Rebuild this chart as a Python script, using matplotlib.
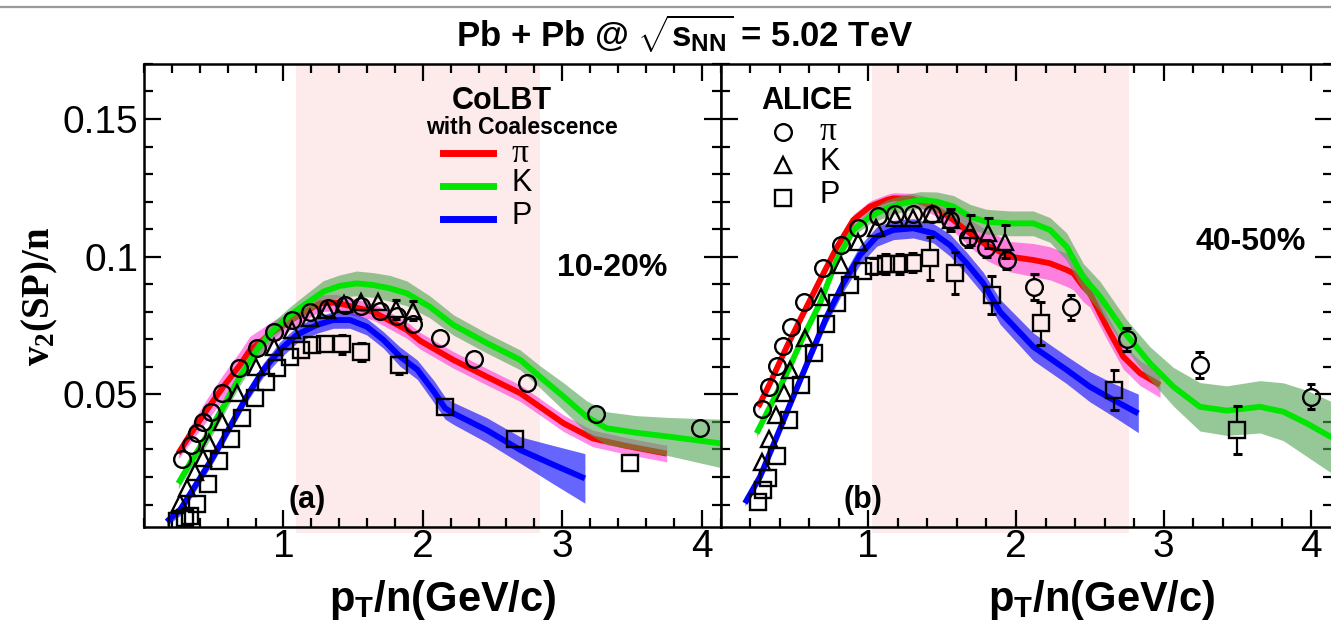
import matplotlib
matplotlib.use("Agg")
import matplotlib.pyplot as plt
from matplotlib.lines import Line2D
from matplotlib.ticker import MultipleLocator
import numpy as np

plt.rcParams['font.family'] = ['Liberation Sans', 'DejaVu Sans']
plt.rcParams['mathtext.fontset'] = 'custom'
plt.rcParams['mathtext.rm'] = 'Liberation Sans:bold'
plt.rcParams['mathtext.it'] = 'Liberation Sans:bold'
plt.rcParams['mathtext.bf'] = 'Liberation Serif:bold'
plt.rcParams['mathtext.sf'] = 'Liberation Serif'

# ---------------- data: panel (a) 10-20% ----------------
a_pi_x = [0.275, 0.335, 0.382, 0.425, 0.478, 0.56, 0.68, 0.81, 0.93, 1.06, 1.19, 1.32, 1.44,
          1.56, 1.69, 1.815, 1.93, 2.12, 2.37, 2.745, 3.24, 3.99]
a_pi_y = [0.0265, 0.0316, 0.0361, 0.0399, 0.0435, 0.0506, 0.0595, 0.067, 0.0728, 0.077, 0.0798,
          0.0813, 0.0825, 0.082, 0.0803, 0.0785, 0.0755, 0.0704, 0.0627, 0.054, 0.0429, 0.0379]
a_pi_e = [0.0005] * 13 + [0.001, 0.001, 0.0015, 0.0015, 0.002, 0.002, 0.002, 0.002, 0.002]

a_k_x = [0.258, 0.306, 0.366, 0.426, 0.469, 0.557, 0.67, 0.804, 0.935, 1.06, 1.19, 1.31, 1.435,
         1.555, 1.68, 1.808, 1.932]
a_k_y = [0.0105, 0.0159, 0.0219, 0.0268, 0.0322, 0.0401, 0.0506, 0.060, 0.0673, 0.0734, 0.0776,
         0.0806, 0.0828, 0.0837, 0.0837, 0.0809, 0.0804]
a_k_e = [0.0005] * 13 + [0.002, 0.0025, 0.0035, 0.0035]

a_p_x = [0.239, 0.294, 0.33, 0.378, 0.461, 0.54, 0.622, 0.70, 0.796, 0.875, 0.957, 1.048, 1.124,
         1.203, 1.30, 1.42, 1.56, 1.83, 2.16, 2.66, 3.49]
a_p_y = [0.0041, 0.005, 0.0058, 0.0102, 0.0174, 0.0259, 0.0337, 0.0413, 0.0486, 0.0546, 0.0595,
         0.0635, 0.0661, 0.0679, 0.0682, 0.0682, 0.0655, 0.0607, 0.0453, 0.0338, 0.025]
a_p_e = [0.0005] * 14 + [0.002, 0.0035, 0.0032, 0.0032, 0.002, 0.002, 0.002]

# CoLBT curves (a)
a_pi_cx = [0.246, 0.33, 0.45, 0.569, 0.689, 0.76, 0.928, 1.095, 1.262, 1.38, 1.645, 1.885,
           1.98, 2.22, 2.46, 2.70, 2.84, 3.01, 3.22, 3.46, 3.75]
a_pi_cy = [0.0286, 0.0353, 0.0443, 0.0528, 0.0607, 0.0661, 0.0728, 0.0782, 0.0831, 0.0833,
           0.080, 0.0734, 0.0695, 0.0625, 0.0564, 0.0504, 0.0455, 0.0395, 0.034, 0.0313, 0.0285]
a_pi_ce = [0.002, 0.003, 0.004, 0.0045, 0.005, 0.005, 0.004, 0.003, 0.003, 0.003, 0.003, 0.003,
           0.003, 0.003, 0.003, 0.003, 0.003, 0.003, 0.003, 0.003, 0.003]

a_k_cx = [0.246, 0.33, 0.45, 0.569, 0.689, 0.81, 0.928, 1.047, 1.167, 1.286, 1.405, 1.525,
          1.645, 1.765, 1.885, 2.05, 2.22, 2.46, 2.70, 2.84, 3.01, 3.175, 3.32, 3.53, 3.775, 4.14]
a_k_cy = [0.0177, 0.025, 0.0346, 0.0455, 0.0564, 0.0661, 0.0734, 0.0788, 0.0831, 0.0873,
          0.0894, 0.0903, 0.0897, 0.0885, 0.0867, 0.0818, 0.0752, 0.0686, 0.0625, 0.0564,
          0.0492, 0.0419, 0.0377, 0.0361, 0.0346, 0.0322]
a_k_ce = [0.002, 0.0025, 0.003, 0.003, 0.003, 0.003, 0.003, 0.003, 0.0035, 0.004, 0.004, 0.0045,
          0.0045, 0.0047, 0.0045, 0.004, 0.0037, 0.0036, 0.0036, 0.004, 0.005, 0.0058, 0.006,
          0.0062, 0.007, 0.0088]

a_p_cx = [0.163, 0.258, 0.378, 0.497, 0.617, 0.737, 0.856, 0.976, 1.095, 1.239, 1.358, 1.478,
          1.598, 1.717, 1.837, 1.96, 2.08, 2.16, 2.22, 2.46, 2.70, 2.94, 3.163]
a_p_cy = [0.0038, 0.008, 0.0177, 0.0274, 0.0383, 0.0492, 0.0589, 0.0661, 0.0716, 0.0752, 0.077,
          0.077, 0.0746, 0.0698, 0.0637, 0.059, 0.051, 0.045, 0.0431, 0.037, 0.0298, 0.0244, 0.0195]
a_p_ce = [0.0015, 0.002, 0.002, 0.002, 0.002, 0.002, 0.0025, 0.003, 0.003, 0.003, 0.003, 0.003,
          0.003, 0.003, 0.0035, 0.0035, 0.004, 0.004, 0.004, 0.0045, 0.0048, 0.007, 0.009]

# ---------------- data: panel (b) 40-50% ----------------
b_pi_x = [0.278, 0.33, 0.38, 0.425, 0.475, 0.565, 0.695, 0.813, 0.932, 1.068, 1.18, 1.30, 1.43,
          1.553, 1.677, 1.80, 1.937, 2.124, 2.372, 2.75, 3.245, 3.997]
b_pi_y = [0.0446, 0.0528, 0.0603, 0.0676, 0.0746, 0.0837, 0.0958, 0.1042, 0.1103, 0.1148, 0.1155,
          0.1155, 0.1155, 0.1133, 0.1067, 0.103, 0.0988, 0.0891, 0.0816, 0.070, 0.0607, 0.0492]
b_pi_e = [0.0005] * 9 + [0.0015, 0.0015, 0.0015, 0.002, 0.003, 0.003, 0.003, 0.0034, 0.0047,
                         0.0046, 0.0042, 0.0048, 0.0044]

b_k_x = [0.278, 0.33, 0.375, 0.429, 0.47, 0.571, 0.68, 0.813, 0.932, 1.052, 1.18, 1.30, 1.43,
         1.558, 1.689, 1.813, 1.926]
b_k_y = [0.0256, 0.0337, 0.0425, 0.0506, 0.0589, 0.0704, 0.0855, 0.097, 0.1054, 0.1103, 0.114,
         0.114, 0.1155, 0.1133, 0.1097, 0.1085, 0.1054]
b_k_e = [0.0005] * 9 + [0.0015, 0.002, 0.002, 0.002, 0.004, 0.0055, 0.0055, 0.006]

b_p_x = [0.255, 0.285, 0.323, 0.38, 0.463, 0.542, 0.632, 0.714, 0.79, 0.876, 0.962, 1.038, 1.118,
         1.21, 1.30, 1.418, 1.587, 1.835, 2.167, 2.664, 3.498]
b_p_y = [0.011, 0.0153, 0.0195, 0.0278, 0.0407, 0.0534, 0.0649, 0.0756, 0.0831, 0.0897, 0.0948,
         0.0966, 0.0973, 0.0973, 0.0978, 0.0994, 0.094, 0.0861, 0.0758, 0.0516, 0.0371]
b_p_e = [0.0005] * 11 + [0.003, 0.0035, 0.0035, 0.0035, 0.0079, 0.0076, 0.0069, 0.0079, 0.0071,
                         0.0087]

# CoLBT curves (b)
b_pi_cx = [0.255, 0.334, 0.448, 0.56, 0.673, 0.786, 0.898, 1.011, 1.125, 1.17, 1.30, 1.45, 1.576,
           1.689, 1.80, 1.96, 2.117, 2.23, 2.343, 2.388, 2.456, 2.50, 2.614, 2.726, 2.84, 2.975]
b_pi_cy = [0.0455, 0.054, 0.0673, 0.0794, 0.0915, 0.1033, 0.1133, 0.1182, 0.1206, 0.1212, 0.121,
           0.118, 0.1133, 0.1085, 0.1042, 0.100, 0.0988, 0.0976, 0.0952, 0.094, 0.0891, 0.0867,
           0.0746, 0.0637, 0.0577, 0.0534]
b_pi_ce = [0.0015, 0.0015, 0.0015, 0.0015, 0.0015, 0.0015, 0.002, 0.002, 0.002, 0.002, 0.002,
           0.003, 0.004, 0.005, 0.0055, 0.0055, 0.006, 0.006, 0.006, 0.006, 0.0055, 0.005, 0.0045,
           0.0045, 0.0045, 0.0045]

b_k_cx = [0.244, 0.334, 0.448, 0.56, 0.673, 0.786, 0.898, 1.011, 1.125, 1.237, 1.35, 1.463,
          1.576, 1.689, 1.80, 1.96, 2.117, 2.23, 2.343, 2.456, 2.569, 2.75, 2.907, 3.065, 3.245,
          3.427, 3.652, 3.81, 3.968, 4.14]
b_k_cy = [0.0359, 0.0455, 0.0577, 0.071, 0.0831, 0.0988, 0.1097, 0.1145, 0.1176, 0.1194, 0.1206,
          0.12, 0.1182, 0.1145, 0.1127, 0.1121, 0.1121, 0.1097, 0.1036, 0.0925, 0.0855, 0.0715,
          0.0613, 0.0528, 0.0455, 0.0441, 0.0455, 0.0437, 0.0395, 0.0343]
b_k_ce = [0.0015, 0.0015, 0.0015, 0.0015, 0.0015, 0.002, 0.002, 0.0025, 0.003, 0.003, 0.003,
          0.0035, 0.004, 0.0045, 0.0045, 0.0045, 0.0045, 0.0045, 0.005, 0.005, 0.0055, 0.0055,
          0.006, 0.007, 0.0088, 0.009, 0.0095, 0.0105, 0.012, 0.013]

b_p_cx = [0.165, 0.267, 0.38, 0.492, 0.605, 0.718, 0.831, 0.944, 1.057, 1.17, 1.305, 1.44, 1.553,
          1.666, 1.779, 1.892, 2.117, 2.343, 2.50, 2.659, 2.828]
b_p_cy = [0.0105, 0.0201, 0.0346, 0.0492, 0.0637, 0.0782, 0.0903, 0.1006, 0.1073, 0.1097, 0.1103,
          0.1085, 0.1042, 0.0976, 0.0903, 0.080, 0.0673, 0.0589, 0.0528, 0.048, 0.0431]
b_p_ce = [0.001, 0.001, 0.0012, 0.0015, 0.002, 0.0025, 0.003, 0.0035, 0.0035, 0.0035, 0.0035,
          0.0035, 0.004, 0.004, 0.004, 0.0045, 0.005, 0.005, 0.0055, 0.006, 0.007]

# shaded pT windows
a_window = (1.09, 2.84)
b_window = (1.025, 2.765)

x_ticks = [1, 2, 3, 4]
x_tick_labels = ['1', '2', '3', '4']
y_ticks = [0.05, 0.10, 0.15]
y_tick_labels = ['0.05', '0.1', '0.15']
XLIM = (0.0, 4.14)
YLIM = (0.002, 0.170)

# ---------------- figure ----------------
W, H = 1331, 633
fig = plt.figure(figsize=(W / 100, H / 100), dpi=100)


def fx(px):
    return px / W


def fy(py):
    return 1 - py / H


top_px, bot_px = 63.9, 526.6
ax1 = fig.add_axes([fx(144), fy(bot_px), 577.1 / W, (bot_px - top_px) / H])
ax2 = fig.add_axes([fx(720.6), fy(bot_px), 611.5 / W, (bot_px - top_px) / H])

RED, GREEN, BLUE = '#ff0000', '#00e600', '#0000ff'
PINKBAND = '#ff00d0'
GREENBAND = '#50a350'
BLUEBAND = '#0000ff'
WINDOW = '#fdeaea'
R_MARK = 0.0029  # marker radius in data units (error bars start outside marker)


def draw_band(ax, x, y, e, fc, alpha, lc, z):
    x = np.asarray(x); y = np.asarray(y); e = np.asarray(e)
    ax.fill_between(x, y - e, y + e, color=fc, alpha=alpha, lw=0, zorder=z)
    ax.plot(x, y, color=lc, lw=4.2, solid_capstyle='butt', zorder=z + 0.5)


def draw_points(ax, x, y, e, marker, ms):
    x = np.asarray(x); y = np.asarray(y); e = np.asarray(e)
    m = e > R_MARK
    ax.vlines(x[m], y[m] + R_MARK, y[m] + e[m], color='black', lw=1.6, zorder=11)
    ax.vlines(x[m], y[m] - e[m], y[m] - R_MARK, color='black', lw=1.6, zorder=11)
    ax.hlines(y[m] + e[m], x[m] - 0.03, x[m] + 0.03, color='black', lw=2.2, zorder=11)
    ax.hlines(y[m] - e[m], x[m] - 0.03, x[m] + 0.03, color='black', lw=2.2, zorder=11)
    ax.plot(x, y, ls='none', marker=marker, ms=ms, mfc='none', mec='black', mew=1.7, zorder=12)


for ax, win in ((ax1, a_window), (ax2, b_window)):
    ax.set_xlim(*XLIM)
    ax.set_ylim(*YLIM)
    ax.axvspan(win[0], win[1], ymin=-0.014, ymax=1, color=WINDOW, lw=0, zorder=0, clip_on=False)
    ax.set_xticks(x_ticks, labels=x_tick_labels)
    ax.xaxis.set_minor_locator(MultipleLocator(0.2))
    ax.yaxis.set_minor_locator(MultipleLocator(0.01))
    ax.tick_params(which='both', direction='in', top=True, right=True, width=1.6)
    ax.tick_params(which='major', length=12)
    ax.tick_params(which='minor', length=6.5)
    ax.tick_params(axis='x', labelsize=28, pad=2)
    for s in ax.spines.values():
        s.set_linewidth(1.8)

ax1.set_yticks(y_ticks, labels=y_tick_labels)
ax1.tick_params(axis='y', labelsize=28, pad=4)
ax2.set_yticks(y_ticks, labels=[])

# panel (a)
draw_band(ax1, a_pi_cx, a_pi_cy, a_pi_ce, PINKBAND, 0.45, RED, 2)
draw_band(ax1, a_k_cx, a_k_cy, a_k_ce, GREENBAND, 0.6, GREEN, 3)
draw_band(ax1, a_p_cx, a_p_cy, a_p_ce, BLUEBAND, 0.6, BLUE, 4)
draw_points(ax1, a_pi_x, a_pi_y, a_pi_e, 'o', 12)
draw_points(ax1, a_k_x, a_k_y, a_k_e, '^', 12)
draw_points(ax1, a_p_x, a_p_y, a_p_e, 's', 11)

# panel (b)
draw_band(ax2, b_pi_cx, b_pi_cy, b_pi_ce, PINKBAND, 0.45, RED, 2)
draw_band(ax2, b_k_cx, b_k_cy, b_k_ce, GREENBAND, 0.6, GREEN, 3)
draw_band(ax2, b_p_cx, b_p_cy, b_p_ce, BLUEBAND, 0.6, BLUE, 4)
draw_points(ax2, b_pi_x, b_pi_y, b_pi_e, 'o', 12)
draw_points(ax2, b_k_x, b_k_y, b_k_e, '^', 12)
draw_points(ax2, b_p_x, b_p_y, b_p_e, 's', 11)


def ftext(px, py, s, **kw):
    kw.setdefault('ha', 'center')
    kw.setdefault('va', 'center')
    return fig.text(fx(px), fy(py), s, **kw)


# title and frame line
fig.add_artist(Line2D([0, 1], [fy(7), fy(7)], color='#9a9a9a', lw=1.6))
ftext(685, 34, r'Pb + Pb @ $\sqrt{s_{NN}}$ = 5.02 TeV', fontsize=25, fontweight='bold')

# axis labels
ftext(443, 600, r'p$_{T}$/n(GeV/c)', fontsize=30, fontweight='bold')
ftext(1102, 600, r'p$_{T}$/n(GeV/c)', fontsize=30, fontweight='bold')
ftext(40, 296, r'$\mathbf{v_{2}(SP)/n}$', fontsize=28, rotation=90)

PI = r'$\mathsf{\pi}$'

# CoLBT legend
ftext(502, 101, 'CoLBT', fontsize=22, fontweight='bold')
ftext(522, 127, 'with Coalescence', fontsize=16.5, fontweight='bold')
for py, c, lab in ((153, RED, PI), (186, GREEN, 'K'), (219, BLUE, 'P')):
    fig.add_artist(Line2D([fx(443), fx(493)], [fy(py), fy(py)], color=c, lw=5))
    if lab == PI:
        ftext(511, py + 1, lab, fontsize=24, ha='left')
    else:
        ftext(511, py - 3, lab, fontsize=22, ha='left')

# ALICE legend
ftext(806.7, 101, 'ALICE', fontsize=22, fontweight='bold')
for py, mk, lab, ms in ((131.7, 'o', PI, 12), (165.5, '^', 'K', 12), (198.3, 's', 'P', 11)):
    fig.add_artist(Line2D([fx(783.3)], [fy(py)], marker=mk, ms=ms, mfc='none', mec='black',
                          mew=1.7, ls='none'))
    if lab == PI:
        ftext(819, py, lab, fontsize=24, ha='left')
    else:
        ftext(819, py - 3, lab, fontsize=22, ha='left')

# centrality and panel labels
ftext(612, 268, '10-20%', fontsize=23, fontweight='bold')
ftext(1251, 242, '40-50%', fontsize=23, fontweight='bold')
ftext(306.7, 500, '(a)', fontsize=22, fontweight='bold')
ftext(863.3, 500, '(b)', fontsize=22, fontweight='bold')

fig.savefig('out.png', dpi=100)
